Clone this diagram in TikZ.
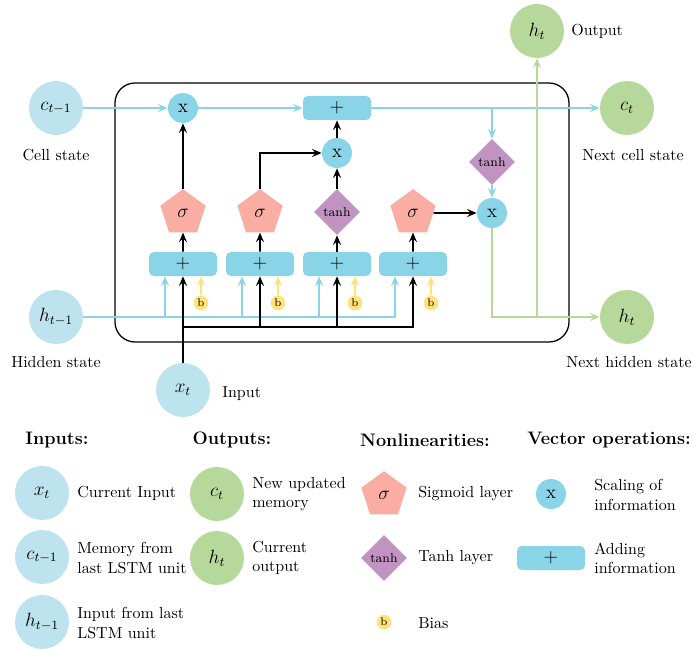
\documentclass[tikz,border=0pt]{standalone}
\usetikzlibrary{shapes.geometric,arrows.meta}
\definecolor{inblue}{RGB}{189,227,239}
\definecolor{opblue}{RGB}{137,212,230}
\definecolor{outgreen}{RGB}{182,217,155}
\definecolor{sigred}{RGB}{249,173,163}
\definecolor{tanhpurple}{RGB}{192,147,194}
\definecolor{biasyellow}{RGB}{255,226,122}
\begin{document}
\begin{tikzpicture}[x=0.625pt,y=-0.625pt,
  >={Stealth[length=6pt,width=5pt,inset=2.2pt]},
  insig/.style={circle,fill=inblue,minimum size=33.75pt,inner sep=0pt,font=\large},
  outsig/.style={circle,fill=outgreen,minimum size=33.75pt,inner sep=0pt,font=\large},
  mult/.style={circle,fill=opblue,minimum size=18.75pt,inner sep=0pt,font=\large},
  addbox/.style={rectangle,rounded corners=3pt,fill=opblue,minimum width=42.5pt,minimum height=15pt,inner sep=0pt,font=\large},
  sigm/.style={regular polygon,regular polygon sides=5,fill=sigred,minimum size=29.75pt,inner sep=0pt,font=\large},
  tanhd/.style={diamond,fill=tanhpurple,minimum size=28.75pt,inner sep=0pt,font=\footnotesize},
  bias/.style={circle,fill=biasyellow,minimum size=9.1pt,inner sep=0pt,font=\scriptsize},
  blk/.style={line width=1.15pt,->},
  cy/.style={line width=0.95pt,opblue},
  gr/.style={line width=0.95pt,outgreen},
  yl/.style={line width=0.95pt,biasyellow,->},
  lab/.style={anchor=west,align=left,inner sep=0pt},
  head/.style={font=\fontsize{11.3}{13}\selectfont\bfseries,inner sep=0pt}]
\useasboundingbox (0,0) rectangle (694,650);

% cell body
\draw[line width=0.8pt,rounded corners=12.5pt] (115,83) rectangle (569,342);

% external states
\node[insig] (cprev) at (56,108) {$c_{t-1}$};
\node[insig] (hprev) at (56,317) {$h_{t-1}$};
\node[insig] (xt) at (183,390) {$x_t$};
\node[outsig] (cnext) at (627,108) {$c_t$};
\node[outsig] (hnext) at (627,317) {$h_t$};
\node[outsig] (hout) at (537,31) {$h_t$};
\node (cslab) at (56,155) {Cell state};
\node (hslab) at (56,362) {Hidden state};
\node[lab] (inlab) at (222,394) {Input};
\node[lab] (outlab) at (571,31) {Output};
\node (ncslab) at (633,155) {Next cell state};
\node (nhslab) at (629,362) {Next hidden state};

% gates
\node[mult] (fx) at (183,108) {x};
\node[addbox] (addtop) at (337,108) {$+$};
\node[mult] (mx1) at (337,153) {x};
\node[tanhd] (tanh1) at (337,212) {tanh};
\node[sigm] (sig1) at (183,213) {$\sigma$};
\node[sigm] (sig2) at (260,213) {$\sigma$};
\node[sigm] (sig4) at (413,213) {$\sigma$};
\node[tanhd] (tanh2) at (492,162) {tanh};
\node[mult] (mx2) at (492,213) {x};
\node[addbox] (add1) at (183,264) {$+$};
\node[addbox] (add2) at (260,264) {$+$};
\node[addbox] (add3) at (337,264) {$+$};
\node[addbox] (add4) at (413,264) {$+$};
\node[bias] (b1) at (201,303) {b};
\node[bias] (b2) at (278,303) {b};
\node[bias] (b3) at (355,303) {b};
\node[bias] (b4) at (431,303) {b};

% tap points on the gate inputs
\foreach \i in {1,2,3,4}{
  \coordinate (hin\i) at ([xshift=-11.25pt]add\i.south);
  \coordinate (bin\i) at ([xshift=11.25pt]add\i.south);
}
\coordinate (xj) at (183,327);
\coordinate (br) at (492,108);
\coordinate (gj) at (537,317);

% cell state path
\draw[cy,->] (cprev) -- (fx);
\draw[cy,->] (fx) -- (addtop);
\draw[cy,->] (addtop) -- (cnext);
\draw[cy,->] (br) -- (tanh2);
\draw[cy,->] (tanh2) -- (mx2);

% hidden state into the gates
\foreach \i in {1,2,3,4}{
  \draw[cy,->] (hprev) -| (hin\i);
  \draw[yl] (b\i) -- (bin\i);
}

% input into the gates
\draw[blk] (xt) -- (add1);
\draw[blk] (xj) -| (add2);
\draw[blk] (xj) -| (add3);
\draw[blk] (xj) -| (add4);

% gate activations
\draw[blk] (add1) -- (sig1);
\draw[blk] (add2) -- (sig2);
\draw[blk] (add3) -- (tanh1);
\draw[blk] (add4) -- (sig4);
\draw[blk] (sig1) -- (fx);
\draw[blk] (sig2.north) |- (mx1);
\draw[blk] (tanh1) -- (mx1);
\draw[blk] (mx1) -- (addtop);
\draw[blk] (sig4) -- (mx2);

% hidden output
\draw[gr,->] (mx2) |- (hnext);
\draw[gr,->] (gj) -- (hout);

% legend
\node[head] (hin) at (57,440) {Inputs:};
\node[head] (hou) at (232,440) {Outputs:};
\node[head] (hnl) at (425,440) {Nonlinearities:};
\node[head] (hvo) at (609,440) {Vector operations:};

\node[insig] (lx) at (42,493) {$x_t$};
\node[lab] at (77,493) {Current Input};
\node[insig] (lc) at (42,557) {$c_{t-1}$};
\node[lab] at (77,558) {Memory from\\last LSTM unit};
\node[insig] (lh) at (42,622) {$h_{t-1}$};
\node[lab] at (77,623) {Input from last\\LSTM unit};

\node[outsig] (lct) at (217,494) {$c_t$};
\node[lab] at (252,494) {New updated\\memory};
\node[outsig] (lht) at (217,558) {$h_t$};
\node[lab] at (252,558) {Current\\output};

\node[sigm] (ls) at (384,495) {$\sigma$};
\node[lab] at (418,494) {Sigmoid layer};
\node[tanhd] (lt) at (384,558) {tanh};
\node[lab] at (418,558) {Tanh layer};
\node[bias] (lb) at (384,622) {b};
\node[lab] at (418,623) {Bias};

\node[mult] (lm) at (551,494) {x};
\node[lab] at (594,495) {Scaling of\\information};
\node[addbox] (la) at (551,558) {$+$};
\node[lab] at (594,558) {Adding\\information};
\end{tikzpicture}
\end{document}
